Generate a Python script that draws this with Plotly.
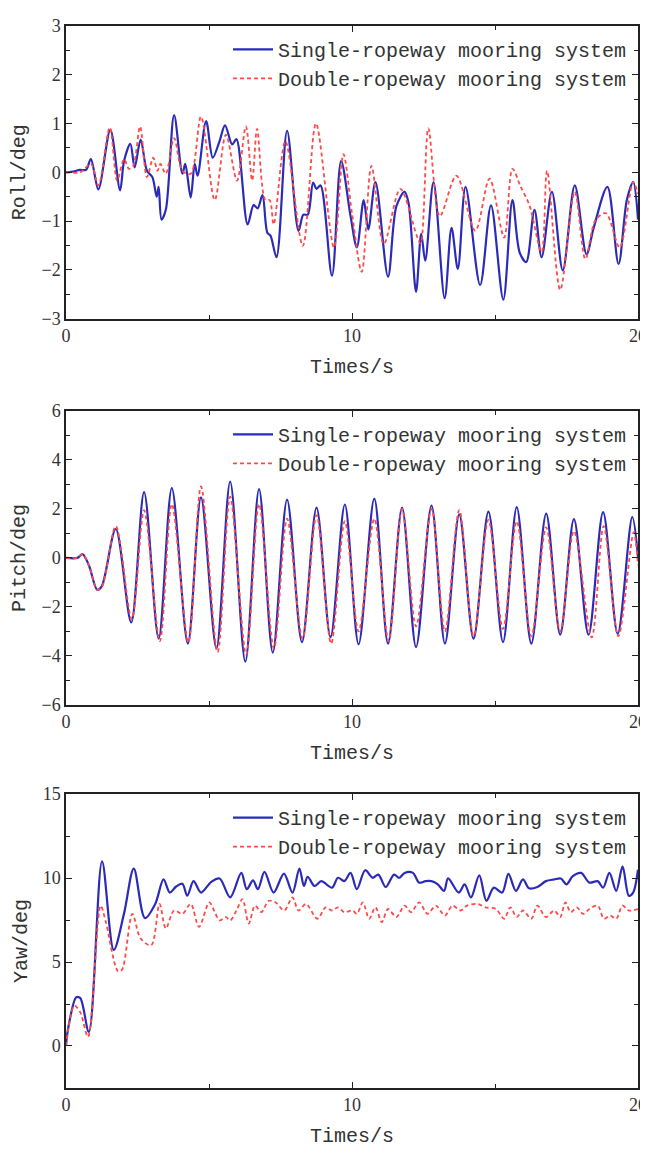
import plotly.graph_objects as go

# ---------------- data ----------------
roll_single_t = [0, 0.3, 0.48, 0.7, 0.87, 1.13, 1.55, 1.89, 2.03, 2.25, 2.4, 2.61, 2.83, 3.02, 3.17, 3.24, 3.34, 3.49,
                 3.78, 4.07, 4.17, 4.36, 4.5, 4.6, 4.9, 5.13, 5.37, 5.56, 5.81, 5.96, 6.35, 6.56, 6.7, 6.87, 7.04, 7.15,
                 7.36, 7.73, 8.13, 8.3, 8.45, 8.64, 8.76, 8.9, 9.3, 9.62, 9.95, 10.17, 10.41, 10.57, 10.82, 11.26,
                 11.55, 11.84, 11.98, 12.24, 12.42, 12.56, 12.85, 13.24, 13.48, 13.7, 13.97, 14.48, 14.86, 15.29,
                 15.61, 15.86, 16.09, 16.38, 16.63, 16.99, 17.37, 17.79, 18.2, 18.45, 18.93, 19.32, 19.61, 19.83, 20]
roll_single_v = [0, 0.02, 0.05, 0.05, 0.27, -0.35, 0.87, -0.37, 0.23, 0.58, 0.1, 0.67, 0.03, -0.1, -0.5, -0.3, -0.97,
                 -0.77, 1.17, -0.03, 0.17, -0.52, 0.17, -0.07, 1.05, 0.3, 0.64, 0.96, 0.57, 0.68, -1.07, -0.67, -0.74,
                 -0.47, -1.24, -1.3, -1.74, 0.85, -1.2, -0.87, -0.87, -0.21, -0.34, -0.27, -2.12, 0.23, -0.9, -1.54,
                 -0.57, -1.17, -0.2, -2.14, -0.7, -0.4, -0.64, -2.45, -1.26, -1.81, -0.2, -2.58, -1.14, -1.98, -0.3,
                 -2.31, -0.68, -2.61, -0.57, -1.64, -1.84, -0.77, -1.74, -0.4, -2.01, -0.27, -1.68, -1.14, -0.3, -1.88,
                 -0.57, -0.2, -0.97]

roll_double_t = [0, 0.5, 0.87, 1.13, 1.53, 1.79, 2.03, 2.2, 2.35, 2.59, 2.83, 3.05, 3.2, 3.3, 3.49, 3.78, 4.07, 4.36,
                 4.72, 5.2, 5.59, 5.98, 6.29, 6.51, 6.68, 6.97, 7.12, 7.26, 7.67, 8.28, 8.74, 9.37, 9.7, 10.0, 10.34,
                 10.68, 11.11, 11.69, 12.27, 12.4, 12.67, 13.07, 13.65, 14.31, 14.81, 15.32, 15.61, 15.9, 16.2, 16.63,
                 16.82, 17.28, 17.79, 18.16, 18.52, 18.88, 19.36, 19.83, 20]
roll_double_v = [0, 0.0, 0.17, -0.27, 0.92, -0.17, 0.27, 0.07, 0.13, 0.94, -0.1, 0.3, 0.03, 0.17, -0.03, 0.7, 0.03,
                 -0.03, 1.14, -0.57, 0.77, -0.17, 0.94, -0.17, 0.89, -0.57, -0.57, -1.07, 0.64, -1.51, 1.0, -1.54,
                 0.37, -0.84, -2.04, 0.13, -1.47, -0.34, -1.31, -1.46, 0.9, -0.9, -0.07, -1.2, -0.13, -1.34, 0.07,
                 -0.3, -0.67, -1.64, 0.03, -2.41, -0.4, -1.78, -0.97, -0.84, -1.54, -0.2, -0.44]

pitch_single_t = [0, 0.4, 0.58, 0.8, 1.09, 1.25, 1.74, 2.28, 2.73, 3.24, 3.7, 4.26, 4.72, 5.26, 5.74, 6.27, 6.75, 7.23,
                  7.73, 8.25, 8.76, 9.25, 9.75, 10.23, 10.78, 11.26, 11.75, 12.24, 12.78, 13.25, 13.75, 14.25, 14.77,
                  15.28, 15.76, 16.27, 16.79, 17.28, 17.76, 18.27, 18.78, 19.29, 19.8, 20]
pitch_single_v = [0, 0.0, 0.15, -0.3, -1.3, -1.16, 1.18, -2.64, 2.69, -3.3, 2.85, -3.5, 2.47, -3.7, 3.12, -4.24, 2.81,
                  -3.87, 2.38, -3.44, 2.05, -3.24, 2.18, -3.53, 2.42, -3.5, 2.05, -3.64, 2.14, -3.5, 1.78, -3.3, 1.89,
                  -3.44, 2.07, -3.5, 1.81, -3.14, 1.58, -3.14, 1.87, -3.1, 1.67, 0.04]

pitch_double_t = [0, 0.4, 0.58, 0.8, 1.09, 1.25, 1.74, 2.3, 2.73, 3.28, 3.7, 4.28, 4.72, 5.3, 5.74, 6.3, 6.75, 7.27,
                  7.73, 8.27, 8.76, 9.27, 9.75, 10.23, 10.78, 11.28, 11.75, 12.24, 12.78, 13.25, 13.75, 14.25, 14.77,
                  15.28, 15.76, 16.27, 16.79, 17.28, 17.76, 18.38, 18.8, 19.31, 19.85, 20]
pitch_double_v = [0, 0.0, 0.15, -0.3, -1.3, -1.2, 1.3, -2.5, 1.95, -3.4, 2.2, -3.45, 2.92, -3.85, 2.5, -3.95, 2.2,
                  -3.7, 1.6, -3.3, 1.75, -3.5, 1.5, -3.0, 1.6, -3.4, 2.0, -2.8, 2.0, -3.0, 1.95, -3.2, 1.55, -2.9,
                  1.5, -3.2, 1.25, -3.0, 1.1, -3.25, 1.3, -3.2, 1.05, -0.3]

yaw_single_t = [0, 0.07, 0.36, 0.5, 0.8, 1.26, 1.67, 2.03, 2.37, 2.76, 3.12, 3.41, 3.63, 3.85, 4.07, 4.24, 4.46, 4.72,
                5.08, 5.37, 5.74, 6.13, 6.32, 6.54, 6.71, 6.94, 7.26, 7.62, 7.92, 8.16, 8.32, 8.45, 8.69, 8.93, 9.3,
                9.51, 9.73, 9.95, 10.17, 10.46, 10.72, 10.92, 11.18, 11.47, 11.65, 11.84, 12.13, 12.35, 12.57, 12.78,
                13.0, 13.22, 13.36, 13.73, 13.94, 14.16, 14.45, 14.7, 14.96, 15.25, 15.47, 15.73, 15.98, 16.19, 16.48,
                16.78, 17.07, 17.3, 17.5, 17.72, 18.01, 18.3, 18.59, 18.78, 19.0, 19.24, 19.46, 19.68, 19.83, 20]
yaw_single_v = [0, 1.0, 2.9, 2.85, 0.84, 11.0, 5.72, 7.9, 10.57, 7.62, 8.46, 9.92, 9.14, 9.5, 9.67, 8.95, 9.82, 9.14,
                9.78, 9.98, 8.85, 10.31, 9.34, 9.86, 9.34, 10.37, 9.14, 10.27, 9.14, 10.57, 9.53, 10.08, 9.53, 9.82,
                9.43, 10.02, 9.82, 10.31, 9.34, 10.47, 10.02, 10.21, 9.47, 10.21, 10.02, 10.31, 10.31, 9.73, 9.82,
                9.82, 9.63, 9.24, 9.98, 9.14, 9.63, 8.85, 10.16, 8.65, 9.43, 9.14, 10.25, 9.24, 9.92, 9.39, 9.47,
                9.82, 9.92, 9.98, 9.63, 10.12, 10.31, 9.73, 9.82, 9.43, 10.31, 9.24, 10.7, 8.95, 9.14, 10.5]

yaw_double_t = [0, 0.29, 0.5, 0.77, 1.21, 1.38, 1.82, 1.96, 2.32, 2.61,
                2.98, 3.27, 3.49, 3.78, 4.07, 4.36, 4.65, 5.01, 5.23, 5.37,
                5.59, 5.74, 5.96, 6.17, 6.39, 6.61, 6.83, 7.09, 7.33, 7.63,
                7.92, 8.13, 8.39, 8.79, 9.08, 9.3, 9.51, 9.73, 10.02, 10.17,
                10.38, 10.6, 10.82, 11.04, 11.26, 11.55, 11.84, 12.06, 12.35, 12.64,
                12.93, 13.25, 13.51, 13.8, 14.02, 14.38, 14.67, 15.03, 15.32, 15.54,
                15.76, 15.98, 16.27, 16.48, 16.78, 17.07, 17.28, 17.46, 17.65, 17.86,
                18.08, 18.3, 18.59, 18.81, 19.03, 19.24, 19.46, 19.68, 20]
yaw_double_v = [0, 2.4, 2.0, 0.55, 8.36, 7.48, 4.45, 4.55, 7.87, 6.4,
                6.0, 8.46, 7.0, 8.07, 7.87, 8.46, 7.1, 8.55, 7.87, 7.48,
                7.68, 7.48, 8.07, 8.75, 7.29, 8.36, 7.97, 8.65, 8.55, 8.07,
                8.85, 8.07, 8.46, 7.58, 8.26, 8.07, 8.26, 7.97, 8.07, 7.87,
                8.55, 7.58, 8.26, 7.38, 8.16, 7.68, 8.36, 7.97, 8.55, 7.87,
                8.36, 7.77, 8.36, 8.07, 8.36, 8.46, 8.26, 8.16, 7.58, 8.26,
                7.68, 8.07, 7.58, 8.36, 7.68, 8.07, 7.68, 8.55, 7.97, 8.26,
                7.87, 8.16, 8.36, 7.58, 7.77, 7.58, 8.36, 8.07, 8.16]

series_names = ["Single-ropeway mooring system", "Double-ropeway mooring system"]
y_titles = ["Roll/deg", "Pitch/deg", "Yaw/deg"]
x_title = "Times/s"
x_tickvals = [0, 10, 20]
y_ranges = [[-3, 3], [-6, 6], [-2.5, 15]]
y_dticks = [1, 2, 5]
y_minor = [0.5, 1, 2.5]

# ---------------- styling ----------------
BLUE = "#2b2bb8"
RED = "#ff4a4a"
TXT = "#333333"
MONO = "Liberation Mono, DejaVu Sans Mono, monospace"
SERIF = "Liberation Serif, DejaVu Serif, serif"
OFF = 8            # page body margin
W, H = 640, 1143
# panel pixel extents on the page (top, bottom)
panels_px = [(16, 314), (408, 707), (798, 1097)]
PLOT_L, PLOT_R = 66, 638

fig = go.Figure()
data = [
    (roll_single_t, roll_single_v, roll_double_t, roll_double_v),
    (pitch_single_t, pitch_single_v, pitch_double_t, pitch_double_v),
    (yaw_single_t, yaw_single_v, yaw_double_t, yaw_double_v),
]
for i, (st, sv, dt, dv) in enumerate(data):
    sfx = "" if i == 0 else str(i + 1)
    leg = "legend" if i == 0 else f"legend{i + 1}"
    fig.add_trace(go.Scatter(x=st, y=sv, mode="lines", name=series_names[0],
                             line=dict(color=BLUE, width=2.2, shape="spline", smoothing=0.9),
                             xaxis="x" + sfx, yaxis="y" + sfx, legend=leg))
    fig.add_trace(go.Scatter(x=dt, y=dv, mode="lines", name=series_names[1],
                             line=dict(color=RED, width=1.8, dash="4px,3px", shape="spline", smoothing=0.9),
                             xaxis="x" + sfx, yaxis="y" + sfx, legend=leg))

ml = PLOT_L - OFF
mr = W - (PLOT_R - OFF)
layout = dict(
    width=W, height=H,
    margin=dict(l=ml, r=mr, t=0, b=0),
    plot_bgcolor="white", paper_bgcolor="white",
    font=dict(family=MONO, color=TXT, size=20),
)
pw = PLOT_R - PLOT_L
for i in range(3):
    sfx = "" if i == 0 else str(i + 1)
    top, bot = panels_px[i]
    top -= OFF
    bot -= OFF
    dom = [1 - bot / H, 1 - top / H]
    axcommon = dict(showline=True, linecolor="#222222", linewidth=1.5, mirror="allticks",
                    ticks="inside", ticklen=6, tickwidth=1.3, tickcolor="#222222",
                    showgrid=False, zeroline=False,
                    tickfont=dict(family=SERIF, size=18, color=TXT))
    layout["xaxis" + sfx] = dict(axcommon, domain=[0, 1], range=[0, 20], anchor="y" + sfx,
                                 tickvals=x_tickvals,
                                 minor=dict(ticks="inside", tickvals=[5, 15], ticklen=4, tickcolor="#222222", tickwidth=1.2),
                                 title=dict(text=x_title, font=dict(family=MONO, size=20, color=TXT), standoff=14))
    layout["yaxis" + sfx] = dict(axcommon, domain=dom, range=y_ranges[i], anchor="x" + sfx,
                                 dtick=y_dticks[i], tick0=0,
                                 minor=dict(ticks="inside", dtick=y_minor[i], ticklen=4, tickcolor="#222222", tickwidth=1.2),
                                 title=dict(text=y_titles[i], font=dict(family=MONO, size=20, color=TXT), standoff=10))
    leg = "legend" if i == 0 else f"legend{i + 1}"
    legend_left_px = 228
    layout[leg] = dict(x=(legend_left_px - PLOT_L) / pw, xanchor="left", y=1 - (top + 4) / H, yanchor="top",
                       bgcolor="rgba(0,0,0,0)", font=dict(family=MONO, size=20, color=TXT),
                       tracegroupgap=0, itemwidth=40)

fig.update_layout(**layout)
fig.write_html("out.html")
